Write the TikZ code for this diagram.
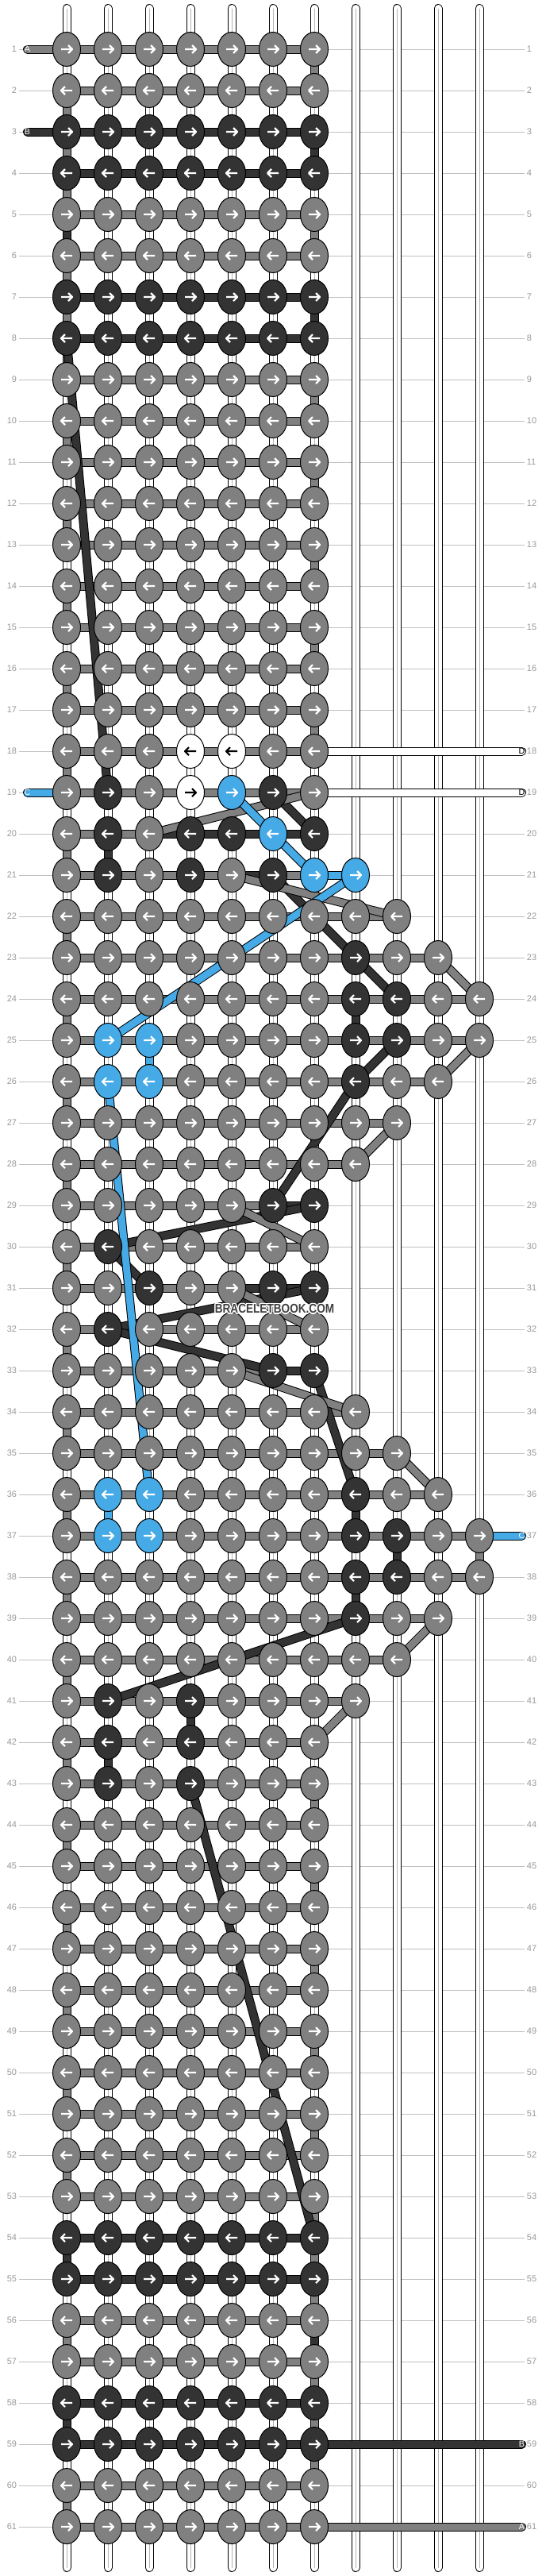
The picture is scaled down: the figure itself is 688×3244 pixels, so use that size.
\documentclass[tikz,border=0pt]{standalone}
\usepackage{fontspec}
\setmainfont{Liberation Sans}
\usetikzlibrary{shapes.geometric}

\definecolor{clrg}{HTML}{808080}
\definecolor{clrd}{HTML}{333333}
\definecolor{clrb}{HTML}{45AAE6}
\definecolor{clrw}{HTML}{FFFFFF}
\colorlet{arrg}{white}
\colorlet{arrd}{white}
\colorlet{arrb}{white}
\colorlet{arrw}{black}
\definecolor{guidegray}{HTML}{C0C0C0}
\definecolor{labgray}{HTML}{999999}
\definecolor{stripegray}{HTML}{B4B4B4}
\definecolor{markgray}{HTML}{404040}

\pgfdeclarelayer{guide}
\pgfdeclarelayer{warp}
\pgfdeclarelayer{strand}
\pgfdeclarelayer{carry}
\pgfsetlayers{guide,warp,strand,carry,main}

\tikzset{
  knot/.style={ellipse, draw=black, line width=0.75pt, minimum width=26.25pt, minimum height=32.25pt, inner sep=0pt},
  arrowpen/.style={line width=1.6pt, line join=round},
  strand/.style={draw=black, line width=0.75pt, double=#1, double distance=6.75pt},
  warp/.style={strand=white, line cap=round},
  stripe/.style={draw=stripegray, line width=0.6pt},
  guide/.style={draw=guidegray, line width=0.75pt},
  rowlab/.style={text=labgray, font=\fontsize{8.25}{9}\selectfont, inner sep=2pt},
  stublab/.style={font=\fontsize{8}{9}\selectfont, inner sep=0pt},
  marktext/.style={font=\bfseries\fontsize{12}{12}\selectfont, xscale=0.85, inner sep=0pt},
}

% one row of knots: row, colour of the row strand, knot colours
\newcommand{\knotrow}[3]{%
  \ifodd#1 \def\dir{1}\else\def\dir{-1}\fi
  \foreach \c [count=\i] in {#3} {
    \node[knot, fill=clr\c] (k-#1-\i) at ({84+52*(\i-1)},{62+52*(#1-1)}) {};
    \draw[arrowpen, draw=arr\c, shift={(k-#1-\i.center)}, xscale=\dir] (-7,0) -- (7,0) (2,-5) -- (7,0) -- (2,5);
    \xdef\lastcol{\i}
  }
  \begin{pgfonlayer}{strand}
    \draw[strand=clr#2] (k-#1-1.center) -- (k-#1-\lastcol.center);
  \end{pgfonlayer}
}
\newcommand{\plainrow}[2]{\knotrow{#1}{#2}{#2,#2,#2,#2,#2,#2,#2}}

\begin{document}
\begin{tikzpicture}[x=0.75pt, y=-0.75pt]
\useasboundingbox (0,0) rectangle (688,3244);
\begin{pgfonlayer}{guide}
  \fill[white] (0,0) rectangle (688,3244);
\end{pgfonlayer}

% knots
\plainrow{1}{g}
\plainrow{2}{g}
\plainrow{3}{d}
\plainrow{4}{d}
\plainrow{5}{g}
\plainrow{6}{g}
\plainrow{7}{d}
\plainrow{8}{d}
\foreach \r in {9,...,17} {\plainrow{\r}{g}}
\knotrow{18}{g}{g,g,g,w,w,g,g}
\knotrow{19}{g}{g,d,g,w,b,d,g}
\knotrow{20}{g}{g,d,g,d,d,b,d}
\knotrow{21}{g}{g,d,g,d,g,d,b,b}
\knotrow{22}{g}{g,g,g,g,g,g,g,g,g}
\knotrow{23}{g}{g,g,g,g,g,g,g,d,g,g}
\knotrow{24}{g}{g,g,g,g,g,g,g,d,d,g,g}
\knotrow{25}{g}{g,b,b,g,g,g,g,d,d,g,g}
\knotrow{26}{g}{g,b,b,g,g,g,g,d,g,g}
\knotrow{27}{g}{g,g,g,g,g,g,g,g,g}
\knotrow{28}{g}{g,g,g,g,g,g,g,g}
\knotrow{29}{g}{g,g,g,g,g,d,d}
\knotrow{30}{g}{g,d,g,g,g,g,g}
\knotrow{31}{g}{g,g,d,g,g,d,d}
\knotrow{32}{g}{g,d,g,g,g,g,g}
\knotrow{33}{g}{g,g,g,g,g,d,d}
\knotrow{34}{g}{g,g,g,g,g,g,g,g}
\knotrow{35}{g}{g,g,g,g,g,g,g,g,g}
\knotrow{36}{g}{g,b,b,g,g,g,g,d,g,g}
\knotrow{37}{g}{g,b,b,g,g,g,g,d,d,g,g}
\knotrow{38}{g}{g,g,g,g,g,g,g,d,d,g,g}
\knotrow{39}{g}{g,g,g,g,g,g,g,d,g,g}
\knotrow{40}{g}{g,g,g,g,g,g,g,g,g}
\knotrow{41}{g}{g,d,g,d,g,g,g,g}
\knotrow{42}{g}{g,d,g,d,g,g,g}
\knotrow{43}{g}{g,d,g,d,g,g,g}
\foreach \r in {44,...,53} {\plainrow{\r}{g}}
\plainrow{54}{d}
\plainrow{55}{d}
\plainrow{56}{g}
\plainrow{57}{g}
\plainrow{58}{d}
\plainrow{59}{d}
\plainrow{60}{g}
\plainrow{61}{g}

% row numbers and guide lines
\foreach \r in {1,...,61} {
  \node[rowlab, anchor=east] (ll-\r) at (24,{62+52*(\r-1)}) {\r};
  \node[rowlab, anchor=west] (rl-\r) at (661,{62+52*(\r-1)}) {\r};
  \begin{pgfonlayer}{guide}
    \draw[guide] (ll-\r.east) -- (rl-\r.west);
  \end{pgfonlayer}
}

% base strings
\begin{pgfonlayer}{warp}
  \foreach \c in {1,...,11} {
    \coordinate (wt-\c) at ({84+52*(\c-1)},10.5);
    \coordinate (wb-\c) at ({84+52*(\c-1)},3233.5);
    \draw[warp] (wt-\c) -- (wb-\c);
    \draw[stripe] (wt-\c) -- (wb-\c);
  }
\end{pgfonlayer}

\begin{pgfonlayer}{strand}
  % turns on the left edge
  \foreach \a [evaluate=\a as \b using {int(\a+1)}] in {2,4,...,52,56,60}
    \draw[strand=clrg] (k-\a-1.center) -- (k-\b-1.center);
  % other vertical pieces
  \foreach \a/\b/\c/\s in {3/4/1/g, 5/6/1/d, 7/8/1/g, 54/55/1/d, 58/59/1/d,
      1/2/7/g, 3/4/7/d, 5/6/7/g, 7/8/7/d, 9/10/7/g, 11/12/7/g, 13/14/7/g, 15/16/7/g, 17/18/7/g,
      43/44/7/g, 45/46/7/g, 47/48/7/g, 49/50/7/g, 51/52/7/g, 53/54/7/g, 54/55/7/g,
      55/56/7/g, 56/57/7/d, 57/58/7/g, 58/59/7/g, 59/60/7/g, 37/38/11/g,
      20/21/2/d, 24/25/8/d, 36/37/8/d, 37/38/9/d, 38/39/8/d, 41/42/4/d, 42/43/2/d,
      25/26/3/b, 36/37/2/b}
    \draw[strand=clr\s] (k-\a-\c.center) -- (k-\b-\c.center);
  % coloured pieces of rows
  \foreach \r/\a/\b/\s in {20/3/7/d, 21/5/6/d, 21/7/8/b, 29/6/7/d, 31/5/7/d, 33/6/7/d}
    \draw[strand=clr\s] (k-\r-\a.center) -- (k-\r-\b.center);
\end{pgfonlayer}

\begin{pgfonlayer}{carry}
  % carried strings
  \foreach \ra/\ca/\rb/\cb in {8/1/19/2, 19/6/20/7, 21/6/23/8, 23/8/24/9, 25/9/26/8, 26/8/29/6,
      29/7/30/2, 30/2/31/3, 31/7/32/2, 32/2/33/6, 33/7/36/8, 39/8/41/2, 43/4/54/7}
    \draw[strand=clrd] (k-\ra-\ca.center) -- (k-\rb-\cb.center);
  \foreach \ra/\ca/\rb/\cb in {19/7/20/3, 21/5/22/9, 23/10/24/11, 25/11/26/10, 27/9/28/8, 29/5/30/7,
      31/5/32/7, 33/5/34/8, 35/9/36/10, 39/10/40/9, 41/8/42/7}
    \draw[strand=clrg] (k-\ra-\ca.center) -- (k-\rb-\cb.center);
  \foreach \ra/\ca/\rb/\cb in {19/5/20/6, 20/6/21/7, 21/8/25/2, 26/2/36/3}
    \draw[strand=clrb] (k-\ra-\ca.center) -- (k-\rb-\cb.center);
  % loose ends
  \foreach \r/\s/\t in {1/g/A, 3/d/B, 19/b/C} {
    \coordinate (tipL-\r) at (34.5,{62+52*(\r-1)});
    \draw[strand=clr\s, line cap=round] (tipL-\r) -- (k-\r-1.center);
    \node[stublab, text=arr\s] (sl-\r) at (tipL-\r) {\t};
  }
  \foreach \r/\c/\s/\t in {18/7/w/D, 19/7/w/D, 37/11/b/C, 59/7/d/B, 61/7/g/A} {
    \coordinate (tipR-\r) at (657.5,{62+52*(\r-1)});
    \draw[strand=clr\s, line cap=round] (k-\r-\c.center) -- (tipR-\r);
    \node[stublab, text=arr\s] (sr-\r) at (tipR-\r) {\t};
  }
\end{pgfonlayer}

% watermark with a white halo
\coordinate (markpos) at (346,1648);
\foreach \dx/\dy in {-1.5/0, 1.5/0, 0/-1.5, 0/1.5, -1/-1, 1/1, -1/1, 1/-1}
  \node[marktext, text=white] at ([shift={(\dx,\dy)}]markpos) {BRACELETBOOK.COM};
\node[marktext, text=markgray] (mark) at (markpos) {BRACELETBOOK.COM};
\end{tikzpicture}
\end{document}
